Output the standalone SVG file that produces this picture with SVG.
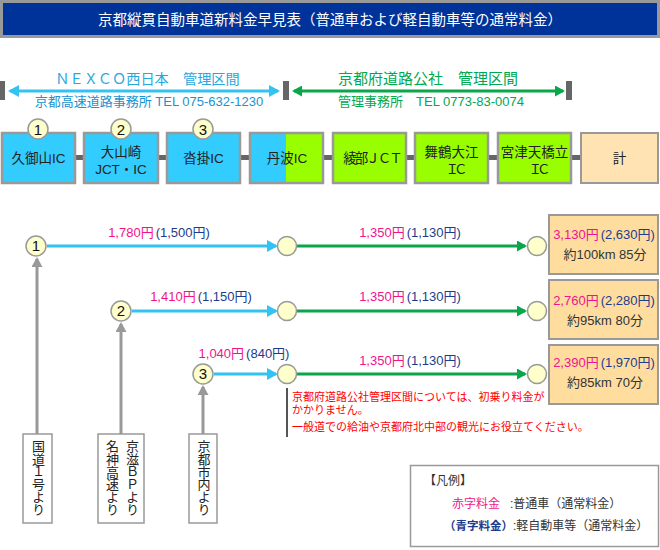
<svg xmlns="http://www.w3.org/2000/svg" width="660" height="550" viewBox="0 0 660 550">
<style>
text{font-family:"Liberation Sans","Noto Sans CJK JP",sans-serif;}
.ttl{font-size:14.5px;fill:#fff;text-anchor:middle;}
.box{stroke:#999;stroke-width:2.5;}
.cy{fill:#33ccff;}
.gr{fill:#99ff00;}
.sum{fill:#ffe3b3;stroke:#999;stroke-width:2;}
.res{fill:#fedd9f;stroke:#999;stroke-width:2;}
.nt{font-size:13.5px;fill:#222;text-anchor:middle;}
.num{fill:#ffffcc;stroke:#999;stroke-width:1.5;}
.nn{font-size:15px;fill:#111;text-anchor:middle;}
.bar{fill:#666;}
.pk{fill:#f0148c;}
.bl{fill:#1e3c8c;}
.pr{font-size:13px;text-anchor:middle;}
.km{font-size:13px;fill:#333;text-anchor:middle;}
.cl{stroke:#33c3f3;stroke-width:3;fill:none;}
.gl{stroke:#0aa64a;stroke-width:3;fill:none;}
.gy{stroke:#999;stroke-width:3;fill:none;}
.vt{font-size:13px;fill:#222;writing-mode:vertical-rl;text-orientation:upright;letter-spacing:-0.4px;}
.note{font-size:11px;fill:#ff0000;}
.lg{font-size:12px;fill:#333;}
</style>
<defs>
<marker id="ac" markerUnits="userSpaceOnUse" markerWidth="11" markerHeight="12" refX="9" refY="6" orient="auto-start-reverse"><path d="M0,0 L11,6 L0,12 z" fill="#33c3f3"/></marker>
<marker id="ag" markerUnits="userSpaceOnUse" markerWidth="10" markerHeight="11" refX="8" refY="5.5" orient="auto-start-reverse"><path d="M0,0 L10,5.5 L0,11 z" fill="#0aa64a"/></marker>
<marker id="ay" markerUnits="userSpaceOnUse" markerWidth="10" markerHeight="11" refX="8" refY="5.5" orient="auto"><path d="M0,0 L10,5.5 L0,11 z" fill="#999"/></marker>
</defs>

<g id="header">
<rect x="1.5" y="1.5" width="657" height="35" fill="#003399" stroke="#999" stroke-width="3"/>
<text class="ttl" x="330" y="25">京都縦貫自動車道新料金早見表（普通車および軽自動車等の通常料金）</text>
</g>

<g id="sections">
<rect class="bar" x="0" y="81" width="5" height="19"/>
<rect class="bar" x="283" y="81" width="6" height="19"/>
<rect class="bar" x="566" y="81" width="6" height="19"/>
<line class="cl" x1="10" y1="91" x2="278" y2="91" marker-start="url(#ac)" marker-end="url(#ac)"/>
<line class="gl" x1="294" y1="91" x2="563" y2="91" marker-start="url(#ag)" marker-end="url(#ag)"/>
<text x="147.5" y="84" font-size="14.2" fill="#29a8e0" text-anchor="middle">ＮＥＸＣＯ西日本　管理区間</text>
<text x="149" y="106" font-size="13" fill="#1a93cf" text-anchor="middle">京都高速道路事務所 TEL 075-632-1230</text>
<text x="428" y="84" font-size="15" fill="#00a84f" text-anchor="middle">京都府道路公社　管理区間</text>
<text x="431" y="106" font-size="13" fill="#00a84f" text-anchor="middle">管理事務所　TEL 0773-83-0074</text>
</g>

<g id="connectors">
<rect class="bar" x="75" y="155" width="9" height="5"/>
<rect class="bar" x="158" y="155" width="9" height="5"/>
<rect class="bar" x="240" y="155" width="10" height="5"/>
<rect class="bar" x="323" y="155" width="10" height="5"/>
<rect class="bar" x="406" y="155" width="9" height="5"/>
<rect class="bar" x="488" y="155" width="10" height="5"/>
<rect class="bar" x="571" y="155" width="10" height="5"/>
<line class="cl" x1="47" y1="246" x2="276" y2="246" marker-end="url(#ac)"/>
<line class="gl" x1="297" y1="246" x2="525" y2="246" marker-end="url(#ag)"/>
<line class="cl" x1="132" y1="311" x2="276" y2="311" marker-end="url(#ac)"/>
<line class="gl" x1="297" y1="311" x2="525" y2="311" marker-end="url(#ag)"/>
<line class="cl" x1="214" y1="374" x2="276" y2="374" marker-end="url(#ac)"/>
<line class="gl" x1="297" y1="374" x2="525" y2="374" marker-end="url(#ag)"/>
<line class="gy" x1="37" y1="434" x2="37" y2="259" marker-end="url(#ay)"/>
<line class="gy" x1="121" y1="434" x2="121" y2="324" marker-end="url(#ay)"/>
<line class="gy" x1="203" y1="434" x2="203" y2="387" marker-end="url(#ay)"/>
</g>

<g id="ic-kumiyama">
<rect class="box cy" x="2" y="133" width="73" height="50"/>
<circle class="num" cx="38" cy="129" r="10"/>
<text class="nn" x="38" y="134.5">1</text>
<text class="nt" x="38.5" y="163">久御山IC</text>
</g>
<g id="ic-oyamazaki">
<rect class="box cy" x="84" y="133" width="74" height="50"/>
<circle class="num" cx="121" cy="129" r="10"/>
<text class="nn" x="121" y="134.5">2</text>
<text class="nt" x="121" y="157">大山崎</text>
<text class="nt" x="121" y="174">JCT・IC</text>
</g>
<g id="ic-kutsukake">
<rect class="box cy" x="167" y="133" width="73" height="50"/>
<circle class="num" cx="203" cy="129" r="10"/>
<text class="nn" x="203" y="134.5">3</text>
<text class="nt" x="203.5" y="163">沓掛IC</text>
</g>
<g id="ic-tamba">
<rect x="250" y="133" width="36" height="50" fill="#33ccff"/>
<rect x="286" y="133" width="37" height="50" fill="#99ff00"/>
<rect x="250" y="133" width="73" height="50" fill="none" stroke="#999" stroke-width="2.5"/>
<text class="nt" x="287" y="163">丹波IC</text>
</g>
<g id="jct-ayabe">
<rect class="box gr" x="333" y="133" width="73" height="50"/>
<text class="nt" x="372" y="163" letter-spacing="-2">綾部ＪＣＴ</text>
</g>
<g id="ic-maizuru">
<rect class="box gr" x="415" y="133" width="73" height="50"/>
<text class="nt" x="451.5" y="157">舞鶴大江</text>
<text class="nt" x="454" y="174" letter-spacing="-5">ＩＣ</text>
</g>
<g id="ic-miyazu">
<rect class="box gr" x="498" y="133" width="73" height="50"/>
<text class="nt" x="534.5" y="157">宮津天橋立</text>
<text class="nt" x="537" y="174" letter-spacing="-5">ＩＣ</text>
</g>
<g id="total">
<rect class="sum" x="581" y="133" width="77" height="50"/>
<text class="nt" x="619.5" y="163">計</text>
</g>

<g id="route1">
<circle class="num" cx="36" cy="246" r="10"/>
<text class="nn" x="36" y="251">1</text>
<circle class="num" cx="287" cy="246" r="9.5"/>
<circle class="num" cx="537" cy="246" r="9.5"/>
<text class="pr" x="159" y="237"><tspan class="pk">1,780円</tspan><tspan class="bl" dx="2">(1,500円)</tspan></text>
<text class="pr" x="410" y="237"><tspan class="pk">1,350円</tspan><tspan class="bl" dx="2">(1,130円)</tspan></text>
<rect class="res" x="549" y="215" width="109" height="59"/>
<text class="pr" x="604" y="239"><tspan class="pk">3,130円</tspan><tspan class="bl" dx="2">(2,630円)</tspan></text>
<text class="km" x="605" y="259">約100km 85分</text>
</g>
<g id="route2">
<circle class="num" cx="121" cy="311" r="10"/>
<text class="nn" x="121" y="316">2</text>
<circle class="num" cx="287" cy="311" r="9.5"/>
<circle class="num" cx="537" cy="311" r="9.5"/>
<text class="pr" x="201" y="301"><tspan class="pk">1,410円</tspan><tspan class="bl" dx="2">(1,150円)</tspan></text>
<text class="pr" x="410" y="301"><tspan class="pk">1,350円</tspan><tspan class="bl" dx="2">(1,130円)</tspan></text>
<rect class="res" x="549" y="280" width="109" height="59"/>
<text class="pr" x="604" y="305"><tspan class="pk">2,760円</tspan><tspan class="bl" dx="2">(2,280円)</tspan></text>
<text class="km" x="605" y="325">約95km 80分</text>
</g>
<g id="route3">
<circle class="num" cx="203" cy="374" r="10"/>
<text class="nn" x="203" y="379">3</text>
<circle class="num" cx="287" cy="374" r="9.5"/>
<circle class="num" cx="537" cy="374" r="9.5"/>
<text class="pr" x="244" y="358"><tspan class="pk">1,040円</tspan><tspan class="bl" dx="2">(840円)</tspan></text>
<text class="pr" x="410" y="365"><tspan class="pk">1,350円</tspan><tspan class="bl" dx="2">(1,130円)</tspan></text>
<rect class="res" x="549" y="345" width="109" height="59"/>
<text class="pr" x="604" y="367"><tspan class="pk">2,390円</tspan><tspan class="bl" dx="2">(1,970円)</tspan></text>
<text class="km" x="605" y="387">約85km 70分</text>
</g>

<g id="note">
<line x1="287" y1="388" x2="287" y2="437" stroke="#555" stroke-width="2"/>
<text class="note" x="292" y="401">京都府道路公社管理区間については、初乗り料金が</text>
<text class="note" x="292" y="414">かかりません。</text>
<text class="note" x="292" y="431">一般道での給油や京都府北中部の観光にお役立てください。</text>
</g>

<g id="src-route1">
<rect x="23" y="434" width="29" height="89" fill="#fff" stroke="#999" stroke-width="1.5"/>
<text class="vt" x="37.5" y="440">国道１号より</text>
</g>
<g id="src-route2">
<rect x="98" y="434" width="46" height="89" fill="#fff" stroke="#999" stroke-width="1.5"/>
<text class="vt" x="131.5" y="440">京滋ＢＰより</text>
<text class="vt" x="111.5" y="440">名神高速より</text>
</g>
<g id="src-route3">
<rect x="189" y="434" width="28" height="89" fill="#fff" stroke="#999" stroke-width="1.5"/>
<text class="vt" x="203" y="440">京都市内より</text>
</g>

<g id="legend">
<rect x="410.5" y="465.5" width="248" height="81" fill="#fff" stroke="#999" stroke-width="1.5"/>
<text class="lg" x="424" y="485" font-size="11.5">【凡例】</text>
<text class="lg" x="452" y="508"><tspan class="pk">赤字料金</tspan><tspan x="510">:普通車（通常料金）</tspan></text>
<text class="lg" x="444" y="530"><tspan class="bl" font-weight="bold" font-size="11.5">（青字料金）</tspan><tspan x="513">:軽自動車等（通常料金）</tspan></text>
</g>
</svg>
